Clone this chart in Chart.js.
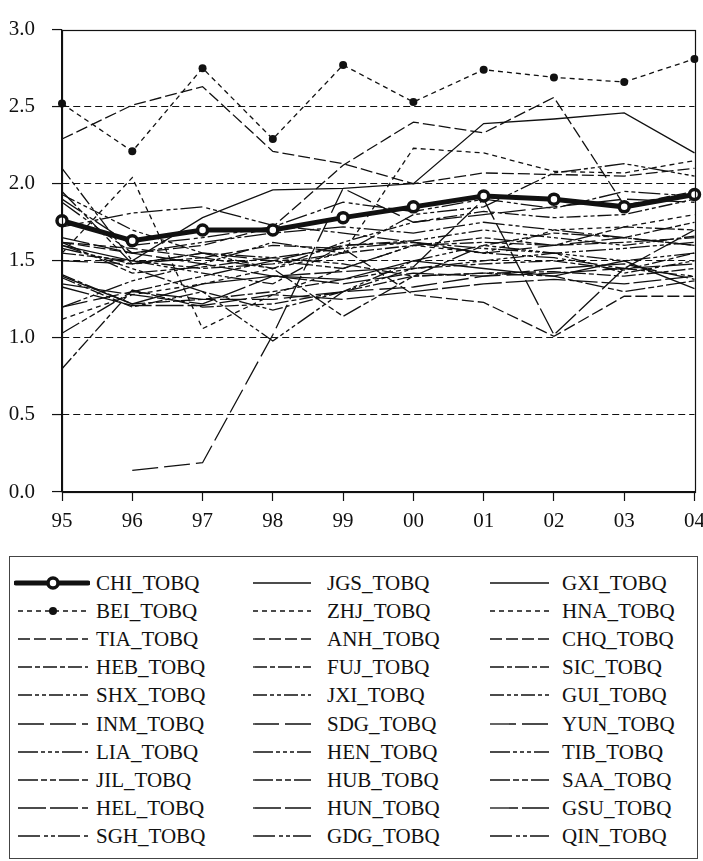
<!DOCTYPE html>
<html>
<head>
<meta charset="utf-8">
<script src="https://cdn.jsdelivr.net/npm/chart.js@4.4.1/dist/chart.umd.min.js"></script>
<style>
  html, body { margin: 0; padding: 0; background: #fff; }
  #wrap { position: relative; width: 703px; height: 861px; overflow: hidden;
          font-family: "Liberation Serif", "Times New Roman", serif; }
  #chart { position: absolute; left: 0; top: 0; }
  #legendBox { position: absolute; left: 9px; top: 556px; width: 689px; height: 303px;
               border: 1px solid #444; box-sizing: border-box; }
  .lg-sample { position: absolute; }
  .lg-text { position: absolute; font-size: 21px; line-height: 24px; color: #111; white-space: nowrap; }
</style>
</head>
<body>
<div id="wrap">
  <canvas id="chart" width="703" height="542"></canvas>
  <div id="legendBox"></div>
</div>
<script>
// Years on the horizontal axis (1995–2004)
const years = ['95', '96', '97', '98', '99', '00', '01', '02', '03', '04'];
const yTickLabels = ['0.0', '0.5', '1.0', '1.5', '2.0', '2.5', '3.0'];

// TOBQ by province, 1995–2004
const CHI_TOBQ = [1.76, 1.63, 1.70, 1.70, 1.78, 1.85, 1.92, 1.90, 1.85, 1.93];
const BEI_TOBQ = [2.52, 2.21, 2.75, 2.29, 2.77, 2.53, 2.74, 2.69, 2.66, 2.81];
const TIA_TOBQ = [2.29, 2.51, 2.63, 2.21, 2.13, 2.00, 2.07, 2.06, 2.05, 2.10];
const HEB_TOBQ = [1.41, 1.22, 1.25, 1.30, 1.38, 1.45, 1.48, 1.50, 1.44, 1.55];
const SHX_TOBQ = [2.10, 1.50, 1.42, 1.35, 1.60, 1.63, 1.70, 1.65, 1.60, 1.66];
const INM_TOBQ = [1.20, 1.30, 1.25, 1.25, 1.30, 1.33, 1.40, 1.42, 1.45, 1.48];
const LIA_TOBQ = [1.58, 1.48, 1.55, 1.52, 1.58, 1.62, 1.58, 1.55, 1.58, 1.62];
const JIL_TOBQ = [1.03, 1.30, 1.40, 1.50, 1.45, 1.60, 1.65, 1.60, 1.72, 1.70];
const HEL_TOBQ = [1.33, 1.21, 1.21, 1.28, 1.25, 1.30, 1.35, 1.38, 1.35, 1.40];
const SGH_TOBQ = [1.90, 1.60, 1.65, 1.72, 1.88, 1.82, 1.90, 1.84, 1.95, 1.92];
const JGS_TOBQ = [1.60, 1.50, 1.78, 1.96, 1.97, 2.00, 2.39, 2.42, 2.46, 2.20];
const ZHJ_TOBQ = [1.55, 2.04, 1.06, 1.28, 1.45, 1.60, 1.55, 1.70, 1.72, 1.80];
const ANH_TOBQ = [1.62, 1.55, 1.60, 1.72, 2.12, 2.40, 2.33, 2.56, 1.86, 1.95];
const FUJ_TOBQ = [0.80, 1.31, 1.20, 1.22, 1.30, 1.40, 1.42, 1.43, 1.40, 1.45];
const JXI_TOBQ = [1.39, 1.20, 1.30, 1.18, 1.30, 1.45, 1.50, 1.55, 1.42, 1.50];
const SDG_TOBQ = [null, 0.14, 0.19, 1.02, 1.97, 1.75, 1.80, 1.85, 1.90, 1.88];
const HEN_TOBQ = [1.60, 1.45, 1.30, 0.98, 1.30, 1.50, 1.60, 1.55, 1.50, 1.55];
const HUB_TOBQ = [1.95, 1.48, 1.52, 1.45, 1.14, 1.40, 1.60, 1.68, 1.65, 1.75];
const HUN_TOBQ = [1.65, 1.55, 1.48, 1.40, 1.43, 1.46, 1.90, 1.02, 1.45, 1.70];
const GDG_TOBQ = [1.72, 1.81, 1.85, 1.73, 1.68, 1.62, 1.55, 1.52, 1.45, 1.40];
const GXI_TOBQ = [1.40, 1.22, 1.35, 1.40, 1.38, 1.50, 1.45, 1.40, 1.50, 1.32];
const HNA_TOBQ = [1.12, 1.28, 1.35, 1.45, 1.55, 2.23, 2.20, 2.08, 2.07, 2.15];
const CHQ_TOBQ = [1.62, 1.58, 1.52, 1.60, 1.58, 1.28, 1.23, 1.01, 1.27, 1.27];
const SIC_TOBQ = [1.55, 1.50, 1.45, 1.48, 1.55, 1.60, 1.62, 1.60, 1.62, 1.65];
const GUI_TOBQ = [1.93, 1.70, 1.55, 1.45, 1.62, 1.75, 1.82, 1.78, 1.80, 1.90];
const YUN_TOBQ = [1.50, 1.48, 1.55, 1.50, 1.60, 1.62, 1.55, 1.60, 1.65, 1.60];
const TIB_TOBQ = [1.20, 1.37, 1.48, 1.62, 1.55, 1.80, 1.85, 2.07, 2.13, 2.05];
const SAA_TOBQ = [1.62, 1.42, 1.46, 1.52, 1.48, 1.40, 1.42, 1.40, 1.30, 1.37];
const GSU_TOBQ = [1.35, 1.28, 1.22, 1.40, 1.35, 1.42, 1.40, 1.45, 1.48, 1.38];
const QIN_TOBQ = [1.88, 1.55, 1.62, 1.68, 1.72, 1.68, 1.75, 1.70, 1.65, 1.60];

// Legend order: three columns of ten, read top to bottom
const seriesList = [
  ['CHI_TOBQ', CHI_TOBQ], ['BEI_TOBQ', BEI_TOBQ], ['TIA_TOBQ', TIA_TOBQ], ['HEB_TOBQ', HEB_TOBQ],
  ['SHX_TOBQ', SHX_TOBQ], ['INM_TOBQ', INM_TOBQ], ['LIA_TOBQ', LIA_TOBQ], ['JIL_TOBQ', JIL_TOBQ],
  ['HEL_TOBQ', HEL_TOBQ], ['SGH_TOBQ', SGH_TOBQ],
  ['JGS_TOBQ', JGS_TOBQ], ['ZHJ_TOBQ', ZHJ_TOBQ], ['ANH_TOBQ', ANH_TOBQ], ['FUJ_TOBQ', FUJ_TOBQ],
  ['JXI_TOBQ', JXI_TOBQ], ['SDG_TOBQ', SDG_TOBQ], ['HEN_TOBQ', HEN_TOBQ], ['HUB_TOBQ', HUB_TOBQ],
  ['HUN_TOBQ', HUN_TOBQ], ['GDG_TOBQ', GDG_TOBQ],
  ['GXI_TOBQ', GXI_TOBQ], ['HNA_TOBQ', HNA_TOBQ], ['CHQ_TOBQ', CHQ_TOBQ], ['SIC_TOBQ', SIC_TOBQ],
  ['GUI_TOBQ', GUI_TOBQ], ['YUN_TOBQ', YUN_TOBQ], ['TIB_TOBQ', TIB_TOBQ], ['SAA_TOBQ', SAA_TOBQ],
  ['GSU_TOBQ', GSU_TOBQ], ['QIN_TOBQ', QIN_TOBQ]
];

const INK = '#111';
// Dash pattern per legend row (same in each column)
const rowDash = [
  [], [5, 4], [12, 4], [14, 3, 5, 3], [14, 3, 4, 3, 4, 3],
  [26, 6], [20, 3, 4, 3, 4, 3, 4, 3], [20, 3, 6, 3, 6, 3], [28, 4], [22, 4, 4, 3, 4, 3]
];

const datasets = seriesList.map(([name, values], k) => {
  const row = k % 10;
  const ds = {
    label: name, data: values, borderColor: INK, borderWidth: 1.3,
    borderDash: rowDash[row], pointRadius: 0, fill: false, tension: 0
  };
  if (name === 'CHI_TOBQ') {
    Object.assign(ds, { borderWidth: 5, pointRadius: 5, pointBorderWidth: 3.5,
      pointBackgroundColor: '#fff', pointBorderColor: INK });
  } else if (name === 'BEI_TOBQ') {
    Object.assign(ds, { pointRadius: 4, pointBorderWidth: 0, pointBackgroundColor: INK });
  }
  return ds;
});

// Box around the plotting area
const frame = {
  id: 'frame',
  afterDatasetsDraw(chart) {
    const { ctx, chartArea: a } = chart;
    ctx.save();
    ctx.strokeStyle = INK; ctx.lineWidth = 1.2; ctx.setLineDash([]);
    ctx.strokeRect(Math.round(a.left) + 0.5, Math.round(a.top) + 0.5,
                   Math.round(a.right - a.left), Math.round(a.bottom - a.top));
    ctx.restore();
  }
};

const axisFont = { family: 'Liberation Serif', size: 21 };

new Chart(document.getElementById('chart'), {
  type: 'line',
  data: { labels: years, datasets },
  plugins: [frame],
  options: {
    responsive: false, animation: false, devicePixelRatio: 1,
    layout: { padding: { top: 17, right: 6, left: 0, bottom: 0 } },
    plugins: { legend: { display: false }, tooltip: { enabled: false } },
    scales: {
      x: {
        offset: false,
        grid: { display: true, drawOnChartArea: false, drawTicks: true, tickLength: 9,
                tickColor: INK, tickWidth: 1.2 },
        border: { display: true, color: INK, width: 1.2 },
        ticks: { color: '#111', font: axisFont, padding: 8, maxRotation: 0, autoSkip: false },
        afterFit(s) { s.height = 50; s.paddingLeft = 0; s.paddingRight = 0; }
      },
      y: {
        min: 0, max: 3,
        ticks: { stepSize: 0.5, color: '#111', font: axisFont, padding: 17,
                 callback: (v, i) => yTickLabels[i] },
        grid: { color: c => (c.tick && c.tick.value > 0 && c.tick.value < 3) ? INK : 'rgba(0,0,0,0)',
                tickColor: INK, tickLength: 10, lineWidth: 1.1, tickWidth: 1.2 },
        border: { display: true, color: INK, width: 1.2, dash: [7, 4] },
        afterFit(s) { s.width = 62; }
      }
    }
  }
});

// Legend: three columns, line samples drawn with each series' own styling
const colSampleX = [14, 249, 486];
const colSampleW = [76, 64, 65];
const colTextX = [96, 327, 562];
const wrap = document.getElementById('wrap');
const svgNS = 'http://www.w3.org/2000/svg';
datasets.forEach((ds, k) => {
  const col = Math.floor(k / 10), row = k % 10;
  const cy = 583 + row * 28.1;
  const w = colSampleW[col];
  const svg = document.createElementNS(svgNS, 'svg');
  svg.setAttribute('width', w); svg.setAttribute('height', 16);
  svg.setAttribute('class', 'lg-sample');
  svg.style.left = colSampleX[col] + 'px';
  svg.style.top = (cy - 8) + 'px';
  const thick = ds.borderWidth > 2;
  const line = document.createElementNS(svgNS, 'line');
  line.setAttribute('x1', thick ? 2 : 4); line.setAttribute('x2', thick ? w - 2 : w - 2);
  line.setAttribute('y1', 8); line.setAttribute('y2', 8);
  line.setAttribute('stroke', ds.borderColor);
  line.setAttribute('stroke-width', ds.borderWidth);
  if (thick) line.setAttribute('stroke-linecap', 'round');
  if (ds.borderDash.length) line.setAttribute('stroke-dasharray', ds.borderDash.join(' '));
  svg.appendChild(line);
  if (ds.pointRadius > 0) {
    const c = document.createElementNS(svgNS, 'circle');
    c.setAttribute('cx', w / 2 + 1); c.setAttribute('cy', 8);
    c.setAttribute('r', ds.pointRadius);
    c.setAttribute('fill', ds.pointBackgroundColor);
    if (ds.pointBorderWidth) {
      c.setAttribute('stroke', ds.pointBorderColor);
      c.setAttribute('stroke-width', ds.pointBorderWidth);
    }
    svg.appendChild(c);
  }
  wrap.appendChild(svg);
  const t = document.createElement('div');
  t.className = 'lg-text';
  t.textContent = ds.label;
  t.style.left = colTextX[col] + 'px';
  t.style.top = (cy - 12) + 'px';
  wrap.appendChild(t);
});
</script>
</body>
</html>
